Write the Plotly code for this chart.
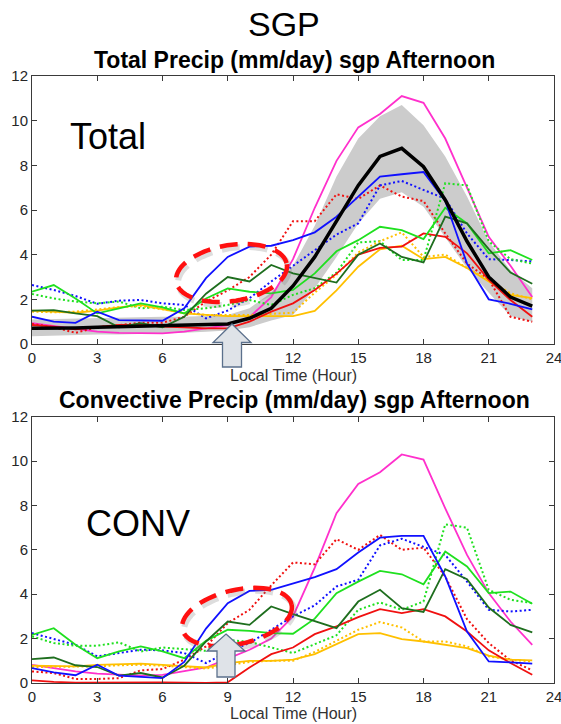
import math
import plotly.graph_objects as go

hours = list(range(24))

# ---------------- Total precip (top panel) ----------------
band_lo_tot = [0.35, 0.38, 0.4, 0.42, 0.43, 0.45, 0.47, 0.5, 0.55, 0.6, 0.75, 1.05, 1.3, 2.5, 3.9, 5.4, 6.5, 6.8, 6.15, 4.8, 3.4, 2.3, 1.25, 1.0]
band_hi_tot = [1.1, 1.12, 1.15, 1.18, 1.2, 1.22, 1.22, 1.22, 1.25, 1.3, 1.6, 2.3, 3.5, 5.3, 7.5, 9.2, 10.2, 10.7, 9.8, 8.4, 6.6, 4.6, 3.3, 2.5]
black_tot = [0.7, 0.7, 0.72, 0.75, 0.78, 0.8, 0.83, 0.87, 0.9, 0.9, 1.15, 1.6, 2.6, 3.9, 5.5, 7.1, 8.4, 8.76, 7.94, 6.45, 4.6, 3.0, 2.1, 1.7]
magenta_tot = [0.93, 0.8, 0.7, 0.55, 0.5, 0.5, 0.48, 0.55, 0.7, 0.85, 1.2, 2.1, 3.8, 6.1, 8.2, 9.7, 10.3, 11.1, 10.8, 9.2, 7.0, 4.8, 3.5, 2.1]
blue_tot = [1.22, 1.0, 0.95, 1.45, 1.07, 1.04, 1.04, 1.6, 2.95, 3.9, 4.36, 4.4, 4.65, 5.0, 5.7, 6.6, 7.5, 7.6, 7.7, 6.4, 3.6, 2.0, 1.8, 1.55]
blue_dot_tot = [2.64, 2.42, 2.15, 1.8, 1.94, 1.97, 1.82, 1.75, 1.15, 1.5, 2.05, 2.8, 3.5, 4.2, 4.9, 5.4, 7.1, 7.3, 6.9, 6.5, 4.95, 3.8, 3.76, 3.7]
green_tot = [2.34, 2.64, 2.04, 1.37, 1.6, 1.82, 1.64, 1.37, 2.04, 2.49, 2.34, 2.27, 2.42, 3.16, 4.15, 4.65, 5.25, 5.1, 4.7, 6.1, 5.4, 4.06, 4.2, 3.76]
green_dot_tot = [2.24, 2.04, 1.9, 1.82, 1.9, 1.6, 1.67, 1.52, 1.6, 1.75, 1.97, 1.75, 2.2, 2.5, 3.2, 4.55, 4.6, 3.76, 3.76, 7.2, 7.1, 4.6, 3.8, 3.6]
dkgreen_tot = [1.49, 1.52, 1.37, 1.25, 0.75, 0.93, 0.75, 1.22, 2.25, 3.0, 2.8, 3.54, 3.16, 2.94, 2.75, 4.0, 4.5, 3.9, 3.65, 5.7, 5.4, 4.25, 3.2, 2.7]
red_tot = [0.85, 0.78, 0.66, 0.75, 0.85, 0.85, 0.78, 0.75, 0.7, 0.7, 1.0, 1.45, 1.82, 2.42, 3.15, 4.0, 4.3, 4.36, 4.95, 4.8, 4.06, 2.87, 1.97, 1.22]
red_dot_tot = [0.9, 0.75, 0.5, 0.75, 0.85, 0.95, 0.95, 1.22, 1.9, 2.4, 3.0, 4.0, 5.5, 5.5, 6.7, 6.5, 7.1, 6.6, 6.4, 4.95, 3.6, 2.9, 1.22, 1.0]
yellow_tot = [1.49, 1.45, 1.4, 1.49, 1.64, 1.75, 1.55, 1.37, 1.3, 1.25, 1.25, 1.25, 1.25, 1.48, 2.4, 3.46, 4.24, 4.4, 3.8, 3.9, 3.4, 2.8, 2.2, 2.05]
yellow_dot_tot = [1.45, 1.42, 1.45, 1.55, 1.65, 1.7, 1.55, 1.4, 1.3, 1.3, 1.3, 1.35, 1.4, 2.3, 3.1, 4.1, 4.6, 5.0, 3.9, 4.0, 3.4, 2.87, 2.27, 2.0]

# ---------------- Convective precip (bottom panel) ----------------
magenta_conv = [0.82, 0.67, 0.52, 0.42, 0.37, 0.33, 0.37, 0.52, 0.7, 1.1, 1.5, 2.0, 3.0, 5.2, 7.65, 8.97, 9.5, 10.3, 10.07, 7.87, 5.77, 4.05, 2.77, 1.72]
blue_conv = [0.67, 0.48, 0.35, 0.82, 0.33, 0.27, 0.22, 0.95, 2.45, 3.6, 4.15, 4.2, 4.5, 4.77, 5.13, 5.88, 6.55, 6.63, 6.63, 4.8, 2.32, 0.97, 0.93, 0.87]
blue_dot_conv = [2.25, 1.98, 1.72, 1.2, 1.35, 1.5, 1.47, 1.35, 0.9, 1.4, 1.8, 2.4, 3.0, 3.5, 4.35, 4.65, 6.2, 6.5, 6.15, 5.77, 4.57, 3.3, 3.22, 3.3]
green_conv = [2.17, 2.47, 1.72, 1.12, 1.42, 1.65, 1.42, 1.12, 1.9, 2.4, 2.35, 2.25, 2.22, 2.9, 4.05, 4.57, 5.05, 4.9, 4.45, 5.92, 5.25, 4.05, 4.12, 3.57]
green_dot_conv = [2.1, 1.8, 1.68, 1.68, 1.83, 1.42, 1.6, 1.53, 1.45, 1.95, 1.85, 1.6, 1.35, 1.75, 2.15, 3.3, 3.63, 3.3, 3.67, 7.15, 7.0, 4.2, 3.75, 3.6]
dkgreen_conv = [1.08, 1.15, 0.8, 0.72, 0.33, 0.45, 0.25, 0.78, 1.87, 2.77, 2.62, 3.45, 3.1, 2.8, 2.47, 3.67, 4.2, 3.37, 3.2, 5.13, 4.68, 3.4, 2.62, 2.28]
red_conv = [0.12, 0.05, 0.02, 0.03, 0.03, 0.03, 0.03, 0.02, 0.0, 0.03, 0.7, 1.3, 1.6, 2.2, 2.55, 2.97, 3.33, 3.15, 3.33, 3.0, 2.32, 1.47, 0.9, 0.37]
red_dot_conv = [0.52, 0.45, 0.18, 0.18, 0.22, 0.57, 0.63, 1.05, 1.65, 2.7, 3.3, 4.4, 5.43, 5.35, 6.48, 6.0, 6.67, 6.0, 6.1, 4.8, 2.88, 1.8, 1.02, 0.57]
yellow_conv = [0.78, 0.75, 0.75, 0.82, 0.85, 0.87, 0.82, 0.75, 0.7, 0.9, 1.0, 1.0, 1.05, 1.3, 1.75, 2.2, 2.25, 1.98, 1.87, 1.72, 1.57, 1.23, 1.05, 1.02]
yellow_dot_conv = [0.72, 0.72, 0.72, 0.75, 0.8, 0.82, 0.78, 0.7, 0.65, 0.8, 0.95, 1.0, 1.0, 1.4, 1.9, 2.4, 2.75, 2.5, 1.87, 1.87, 1.65, 1.2, 1.05, 0.97]

x_ticks = [0, 3, 6, 9, 12, 15, 18, 21, 24]
y_ticks = [0, 2, 4, 6, 8, 10, 12]

MAG = "#ff30cc"
BLUE = "#1010ff"
GREEN = "#1fe01f"
DKGREEN = "#1e6e1e"
RED = "#f01010"
GOLD = "#ffc000"
DOT = "2px,2.5px"

FONT = "Liberation Sans, Arial, Helvetica, sans-serif"

W, H = 561, 724
ML, MR, MT, MB = 32, 7, 76, 41
PW = W - ML - MR
PH = H - MT - MB


def paper(xp, yp):
    return (xp - ML) / PW, (H - MB - yp) / PH


fig = go.Figure()

top_series = [
    (magenta_tot, MAG, "solid", 1.8),
    (red_dot_tot, RED, DOT, 2),
    (blue_dot_tot, BLUE, DOT, 2),
    (green_dot_tot, GREEN, DOT, 2),
    (yellow_dot_tot, GOLD, DOT, 2),
    (yellow_tot, GOLD, "solid", 1.8),
    (red_tot, RED, "solid", 1.8),
    (green_tot, GREEN, "solid", 1.8),
    (dkgreen_tot, DKGREEN, "solid", 1.8),
    (blue_tot, BLUE, "solid", 1.8),
]
bot_series = [
    (magenta_conv, MAG, "solid", 1.8),
    (red_dot_conv, RED, DOT, 2),
    (blue_dot_conv, BLUE, DOT, 2),
    (green_dot_conv, GREEN, DOT, 2),
    (yellow_dot_conv, GOLD, DOT, 2),
    (yellow_conv, GOLD, "solid", 1.8),
    (red_conv, RED, "solid", 1.8),
    (green_conv, GREEN, "solid", 1.8),
    (dkgreen_conv, DKGREEN, "solid", 1.8),
    (blue_conv, BLUE, "solid", 1.8),
]

# gray spread band (top)
fig.add_trace(go.Scatter(x=hours, y=band_lo_tot, mode="lines", line=dict(width=0, color="#cccccc"),
                         showlegend=False, hoverinfo="skip", xaxis="x", yaxis="y"))
fig.add_trace(go.Scatter(x=hours, y=band_hi_tot, mode="lines", line=dict(width=0, color="#cccccc"),
                         fill="tonexty", fillcolor="#cccccc", showlegend=False, hoverinfo="skip",
                         xaxis="x", yaxis="y"))

for vals, col, dash, w in top_series:
    fig.add_trace(go.Scatter(x=hours, y=vals, mode="lines", line=dict(color=col, dash=dash, width=w),
                             showlegend=False, xaxis="x", yaxis="y"))
fig.add_trace(go.Scatter(x=hours, y=black_tot, mode="lines", line=dict(color="black", width=3.5),
                         showlegend=False, xaxis="x", yaxis="y"))

for vals, col, dash, w in bot_series:
    fig.add_trace(go.Scatter(x=hours, y=vals, mode="lines", line=dict(color=col, dash=dash, width=w),
                             showlegend=False, xaxis="x2", yaxis="y2"))

axis_common = dict(
    showgrid=False, zeroline=False, showline=True, linecolor="#3a3a3a", linewidth=1,
    mirror="ticks", ticks="inside", ticklen=5, tickcolor="#3a3a3a", automargin=False,
    ticklabeloverflow="allow",
    tickfont=dict(size=15, color="#262626", family=FONT),
)

top_dom = [(H - MB - 344) / PH, 1.0]
bot_dom = [0.0, (H - MB - 416.7) / PH]

fig.update_layout(
    width=W, height=H,
    margin=dict(l=ML, r=MR, t=MT, b=MB, autoexpand=False),
    paper_bgcolor="white", plot_bgcolor="white",
    font=dict(family=FONT, color="#262626"),
    xaxis=dict(range=[0, 24], tickvals=x_ticks, domain=[0, 1], anchor="y", **axis_common),
    yaxis=dict(range=[0, 12], tickvals=y_ticks, domain=top_dom, anchor="x", **axis_common),
    xaxis2=dict(range=[0, 24], tickvals=x_ticks, domain=[0, 1], anchor="y2", **axis_common),
    yaxis2=dict(range=[0, 12], tickvals=y_ticks, domain=bot_dom, anchor="x2", **axis_common),
    showlegend=False,
)

ann = []


def add_text(text, xp, yp, size, color="black"):
    xpp, ypp = paper(xp, yp)
    ann.append(dict(text=text, x=xpp, y=ypp, xref="paper", yref="paper",
                    xanchor="center", yanchor="middle", showarrow=False,
                    font=dict(size=size, color=color, family=FONT)))


add_text("SGP", 284, 24, 34)
add_text("<b>Total Precip (mm/day) sgp Afternoon</b>", 294, 60, 23)
add_text("<b>Convective Precip (mm/day) sgp Afternoon</b>", 294, 400, 23)
add_text("Local Time (Hour)", 293, 375, 16, color="#333333")
add_text("Local Time (Hour)", 293, 713, 16, color="#333333")
add_text("Total", 108, 136, 36)
add_text("CONV", 138, 523, 36)
fig.update_layout(annotations=ann)

shapes = []


def ellipse_path(cx, cy, a, b, phi_deg, n=72):
    phi = math.radians(phi_deg)
    pts = []
    for i in range(n + 1):
        t = 2 * math.pi * i / n
        xp = cx + a * math.cos(t) * math.cos(phi) - b * math.sin(t) * math.sin(phi)
        yp = cy + a * math.cos(t) * math.sin(phi) + b * math.sin(t) * math.cos(phi)
        pts.append(paper(xp, yp))
    return "M " + " L ".join("%.5f,%.5f" % p for p in pts)


def arrow_path(tip_x, tip_y, head_y, head_half, shaft_half, bottom_y, cx):
    p = [
        (tip_x, tip_y), (cx + head_half, head_y), (cx + shaft_half, head_y),
        (cx + shaft_half, bottom_y), (cx - shaft_half, bottom_y), (cx - shaft_half, head_y),
        (cx - head_half, head_y),
    ]
    pp = [paper(*q) for q in p]
    return "M " + " L ".join("%.5f,%.5f" % q for q in pp) + " Z"


for (cx, cy, a, b, phi) in [(231.5, 273, 56, 28, -9), (237, 617, 56, 27, -13)]:
    shapes.append(dict(type="path", xref="paper", yref="paper",
                       path=ellipse_path(cx + 2, cy + 3, a, b, phi),
                       line=dict(color="rgba(120,120,120,0.25)", width=6, dash="18px,10px"), layer="above"))
    shapes.append(dict(type="path", xref="paper", yref="paper",
                       path=ellipse_path(cx, cy, a, b, phi),
                       line=dict(color="#ff1010", width=4.5, dash="18px,10px"), layer="above"))

shapes.append(dict(type="path", xref="paper", yref="paper",
                   path=arrow_path(232, 324, 342.5, 19, 9.5, 367, 232),
                   fillcolor="#dfe3e8", line=dict(color="#5b708c", width=1.3), layer="above"))
shapes.append(dict(type="path", xref="paper", yref="paper",
                   path=arrow_path(226, 634, 651, 19, 9, 677, 226),
                   fillcolor="#dfe3e8", line=dict(color="#5b708c", width=1.3), layer="above"))

fig.update_layout(shapes=shapes)

fig.write_html("out.html", config={"displayModeBar": False},
               post_script="document.body.style.margin='0';document.body.style.padding='0';")
